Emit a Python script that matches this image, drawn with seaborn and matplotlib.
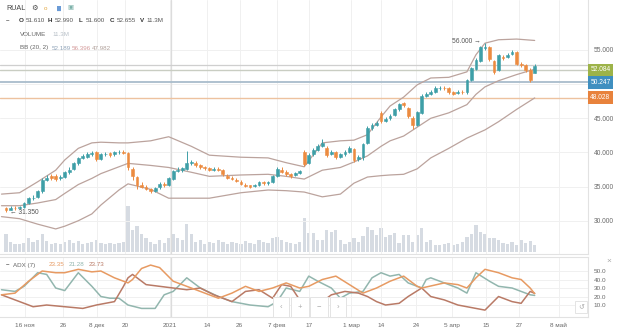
import matplotlib
matplotlib.use("Agg")
import matplotlib.pyplot as plt
import matplotlib.transforms as mtransforms
import numpy as np
import pandas as pd
import seaborn as sns

# ---- daily candles (RUAL), one entry per trading session ----
opens = [31.8, 31.6, 31.9, 31.8, 32.0, 32.6, 33.3, 33.5, 34.3, 36.0,
         36.6, 36.5, 36.2, 36.4, 37.1, 37.6, 38.4, 39.2, 39.4, 39.8,
         40.0, 39.1, 39.7, 39.9, 39.7, 40.0, 40.1, 39.9, 37.6, 36.4,
         35.3, 35.0, 34.6, 34.4, 34.9, 35.4, 35.3, 36.1, 37.3, 37.4,
         37.6, 38.5, 38.5, 38.1, 37.8, 37.7, 37.5, 37.6, 37.5, 36.6,
         36.3, 36.0, 35.7, 35.3, 35.2, 35.1, 35.3, 35.6, 35.5, 35.6,
         36.5, 37.5, 37.2, 36.8, 36.7, 37.0, 40.0, 38.5, 39.7, 40.4,
         41.0, 40.6, 39.8, 40.0, 39.4, 39.7, 40.1, 40.5, 39.0, 39.3,
         41.4, 43.6, 44.0, 45.8, 44.6, 45.0, 45.5, 46.3, 47.2, 46.5,
         45.1, 44.0, 45.8, 48.3, 48.6, 48.9, 49.4, 49.5, 49.5, 48.8,
         48.7, 48.9, 48.8, 50.6, 52.2, 53.4, 55.3, 55.4, 53.4, 52.1,
         54.0, 54.0, 54.4, 54.7, 53.0, 52.8, 52.1, 51.61]
highs = [32.0, 32.1, 32.1, 32.2, 32.8, 33.5, 33.7, 34.5, 36.2, 36.7,
         36.9, 36.8, 36.7, 37.3, 37.8, 38.6, 39.4, 39.8, 40.1, 40.2,
         40.2, 39.9, 40.0, 40.1, 40.2, 40.4, 40.3, 40.0, 37.9, 36.6,
         35.6, 35.2, 34.8, 35.0, 35.6, 35.6, 36.4, 37.5, 37.8, 37.9,
         40.2, 38.9, 38.7, 38.3, 38.0, 37.9, 37.8, 37.8, 37.6, 36.8,
         36.5, 36.2, 35.9, 35.5, 35.3, 35.4, 35.8, 35.8, 35.8, 36.7,
         37.8, 37.8, 37.4, 37.0, 37.2, 37.5, 40.3, 39.9, 40.7, 41.3,
         41.9, 40.9, 40.4, 40.2, 39.9, 40.3, 40.9, 40.7, 39.6, 41.4,
         43.8, 44.3, 44.6, 46.0, 45.2, 45.6, 46.5, 47.3, 47.4, 46.7,
         45.3, 46.1, 48.5, 48.9, 49.2, 49.7, 49.8, 49.7, 49.6, 49.0,
         49.1, 49.1, 50.8, 52.5, 53.8, 55.6, 56.0, 55.6, 53.6, 54.4,
         54.3, 54.5, 55.0, 54.9, 53.2, 53.0, 52.3, 52.99]
lows = [31.35, 31.5, 31.6, 31.7, 31.9, 32.5, 33.1, 33.3, 34.1, 35.8,
        35.9, 35.8, 35.9, 36.2, 36.9, 37.4, 38.2, 39.0, 39.2, 39.5,
        38.7, 38.9, 39.5, 39.4, 39.5, 39.8, 39.7, 37.5, 36.0, 34.6,
        34.8, 34.5, 34.1, 34.2, 34.7, 35.0, 35.1, 35.9, 37.1, 37.2,
        37.4, 38.2, 37.9, 37.6, 37.5, 37.3, 37.3, 37.3, 36.6, 36.1,
        35.9, 35.6, 35.2, 34.9, 34.8, 34.9, 35.1, 35.3, 35.3, 35.5,
        36.4, 37.0, 36.6, 36.3, 36.5, 36.8, 38.0, 38.3, 39.5, 40.2,
        40.8, 39.3, 39.6, 39.0, 39.2, 39.5, 39.9, 38.6, 38.8, 38.9,
        41.2, 43.3, 43.8, 44.3, 44.4, 44.8, 45.3, 46.1, 46.6, 45.0,
        43.4, 43.8, 45.6, 48.1, 48.4, 48.7, 49.2, 49.2, 48.6, 48.4,
        48.5, 48.6, 48.6, 50.4, 52.0, 53.2, 55.0, 53.4, 51.5, 51.9,
        53.6, 53.8, 54.2, 52.8, 52.5, 51.8, 50.3, 51.6]
closes = [31.6, 31.9, 31.8, 32.0, 32.6, 33.3, 33.4, 34.3, 36.0, 36.3,
          36.2, 36.1, 36.4, 37.1, 37.5, 38.4, 39.2, 39.5, 39.8, 39.9,
          39.0, 39.7, 39.8, 39.6, 40.0, 40.1, 39.9, 37.8, 36.6, 35.3,
          35.0, 34.7, 34.3, 34.8, 35.4, 35.2, 36.2, 37.3, 37.5, 37.7,
          38.5, 38.6, 38.1, 37.8, 37.7, 37.5, 37.6, 37.5, 36.8, 36.3,
          36.1, 35.8, 35.4, 35.1, 35.0, 35.2, 35.6, 35.5, 35.6, 36.5,
          37.6, 37.2, 36.8, 36.6, 37.0, 37.3, 38.3, 39.6, 40.4, 41.0,
          41.4, 39.6, 40.1, 39.3, 39.7, 40.1, 40.6, 38.9, 39.3, 41.2,
          43.6, 44.0, 44.3, 44.6, 44.9, 45.3, 46.3, 47.1, 46.9, 45.3,
          44.0, 45.9, 48.3, 48.6, 48.9, 49.4, 49.5, 49.4, 48.8, 48.6,
          48.9, 48.8, 50.6, 52.3, 53.6, 55.4, 55.5, 53.7, 51.8, 54.2,
          53.8, 54.3, 54.7, 53.0, 52.8, 52.1, 50.6, 52.655]
volumes_m = [29, 16, 13, 13, 14, 22, 16, 19, 29, 18,
             13, 14, 13, 16, 19, 14, 18, 13, 14, 16,
             19, 14, 13, 14, 13, 14, 16, 74, 35, 42,
             29, 22, 16, 13, 19, 14, 22, 29, 22, 19,
             45, 29, 16, 19, 13, 16, 14, 19, 16, 13,
             16, 14, 13, 18, 14, 13, 19, 16, 14, 22,
             24, 19, 16, 14, 13, 16, 54, 30, 30, 19,
             19, 35, 32, 35, 19, 13, 16, 22, 16, 26,
             40, 35, 27, 38, 24, 27, 30, 14, 27, 27,
             16, 27, 38, 16, 19, 11, 11, 12, 14, 11,
             13, 16, 24, 29, 43, 32, 29, 22, 22, 19,
             14, 13, 16, 11, 19, 14, 18, 11.3]

# ---- Bollinger Bands (20, 2) ----
bb_bars = [-1, 3, 7, 11, 13, 16, 19, 21, 25, 27, 32, 36, 41, 45, 52, 58, 62,
           66, 70, 74, 77, 80, 83, 85, 88, 91, 94, 98, 102, 104, 106, 109,
           113, 117]
bb_upper = [33.9, 34.1, 35.7, 37.4, 38.9, 40.6, 41.4, 41.5, 41.4, 41.4,
            41.7, 42.3, 40.9, 39.6, 39.3, 39.2, 38.5, 37.9, 41.4, 41.7,
            41.8, 42.6, 45.2, 46.8, 48.1, 49.9, 50.9, 51.0, 51.8, 54.3,
            56.0, 56.5, 56.6, 56.396]
bb_middle = [32.2, 32.2, 32.6, 33.1, 34.0, 35.3, 36.2, 36.9, 37.9, 38.4,
             38.1, 37.8, 37.1, 36.5, 36.7, 36.8, 36.5, 36.1, 37.4, 37.8,
             38.6, 39.5, 40.9, 41.7, 42.4, 43.7, 45.0, 45.8, 47.0, 48.5,
             49.6, 50.5, 51.4, 52.189]
bb_lower = [30.6, 30.3, 29.5, 28.8, 29.2, 30.0, 31.0, 32.3, 34.5, 35.4,
            34.6, 33.3, 33.3, 33.3, 34.1, 34.5, 34.4, 34.2, 33.5, 33.9,
            35.5, 36.4, 36.6, 36.7, 36.8, 37.6, 39.2, 40.6, 42.1, 42.7,
            43.3, 44.5, 46.3, 47.982]

# ---- ADX (7) with +DI / -DI ----
adx_bars = [-1, 2, 5, 8, 11, 13, 16, 19, 21, 24, 27, 28, 30, 32, 34, 37, 40,
            43, 47, 50, 53, 56, 59, 62, 65, 67, 70, 73, 76, 79, 82, 85, 88,
            91, 92, 97, 100, 102, 104, 106, 109, 112, 114, 116, 117]
adx_vals = [22, 24, 38, 50, 48, 48, 52, 49, 50, 42, 36, 40, 53, 57, 54, 38,
            32, 26, 18, 24, 32, 26, 30, 36, 30, 32, 40, 44, 34, 24, 30, 38,
            44, 32, 30, 36, 34, 30, 42, 52, 48, 42, 40, 30, 23.35]
pdi_bars = [-1, 2, 4, 7, 9, 11, 13, 16, 19, 21, 23, 25, 27, 30, 33, 35, 37,
            40, 43, 47, 50, 54, 58, 60, 62, 65, 67, 69, 72, 74, 76, 79, 81,
            83, 85, 87, 89, 92, 93, 94, 97, 100, 102, 104, 107, 109, 112,
            114, 116, 117]
pdi_vals = [28, 26, 32, 48, 46, 30, 27, 48, 32, 20, 18, 18, 10, 6, 6, 22,
            26, 42, 30, 20, 14, 10, 8, 14, 30, 26, 44, 38, 30, 18, 24, 26,
            42, 48, 44, 46, 36, 30, 40, 42, 36, 30, 24, 48, 38, 32, 30, 26,
            22, 21.28]
mdi_bars = [-1, 2, 6, 9, 13, 17, 20, 24, 26, 27, 28, 31, 34, 37, 40, 43, 46,
            50, 53, 56, 59, 61, 63, 65, 67, 69, 72, 75, 78, 80, 82, 84, 87,
            89, 92, 94, 97, 100, 104, 106, 109, 112, 114, 116, 117]
mdi_vals = [22, 16, 8, 10, 8, 6, 10, 14, 32, 42, 46, 34, 32, 30, 28, 30, 22,
            14, 26, 28, 18, 34, 32, 16, 12, 10, 22, 26, 24, 20, 14, 10, 12,
            20, 30, 20, 16, 10, 6, 4, 20, 14, 12, 26, 23.73]

# ---- axis labelling ----
date_tick_pos = [4.2, 12.6, 20.1, 26.3, 36.2, 44.4, 51.7, 60.0, 67.1, 76.4,
                 83.0, 90.7, 98.7, 106.2, 113.5, 122.3]
date_tick_labels = ["16 ноя", "26", "8 дек", "20", "2021", "14", "26",
                    "7 фев", "17", "1 мар", "14", "24", "5 апр", "15", "27",
                    "8 май"]
year_start = 36.5
price_grid = [30, 35, 40, 45, 50, 55]
price_labels = [30, 35, 40, 45, 55]
adx_ticks = [10, 20, 30, 40, 50]
last_price = 52.75
level_values = [52.084, 50.247, 48.028]
level_colors = ["#9db349", "#3f8fc0", "#e8823c"]
level_line_colors = ["#c9cdc2", "#a9bccb", "#edc29f"]

UP, DOWN = "#3e9fa7", "#ec8b40"
BB_COLOR = "#bba39d"
VOL_COLOR = "#d6dbe2"
ADX_COLOR, PDI_COLOR, MDI_COLOR = "#e79a62", "#92b6ae", "#b97a66"
TXT = "#6a6a6a"
GRID = "#f0f0f0"

sns.set_theme(style="white")
plt.rcParams["font.family"] = ["Liberation Sans", "DejaVu Sans"]

W, H = 620, 336
fig = plt.figure(figsize=(W / 100, H / 100), dpi=100)
fig.patch.set_facecolor("white")


def rect(x0, y0, x1, y1):
    return [x0 / W, 1 - y1 / H, (x1 - x0) / W, (y1 - y0) / H]


ax_vol = fig.add_axes(rect(0, 0, 588, 254))
ax = fig.add_axes(rect(0, 0, 588, 254), sharex=ax_vol)
ax_adx = fig.add_axes(rect(0, 257, 588, 317), sharex=ax_vol)
ax.patch.set_visible(False)

n = len(closes)
bars = np.arange(n)
df = pd.DataFrame({"bar": bars, "open": opens, "high": highs, "low": lows,
                   "close": closes, "volume": volumes_m})
df["up"] = df["close"] >= df["open"]
colors = np.where(df["up"], UP, DOWN)

xlim = (-1.33, 128.8)

# volume histogram
ax_vol.bar(df["bar"], df["volume"], width=0.72, color=VOL_COLOR, linewidth=0)
ax_vol.set_ylim(-3.2, 403)
ax_vol.set_xlim(*xlim)
ax_vol.axis("off")

# grid
for p in date_tick_pos:
    ax.axvline(p, color=GRID, lw=0.7, zorder=0)
    ax_adx.axvline(p, color=GRID, lw=0.7, zorder=0)
for p in price_grid:
    ax.axhline(p, color=GRID, lw=0.7, zorder=0)
for p in adx_ticks:
    ax_adx.axhline(p, color=GRID, lw=0.7, zorder=0)

# year separator
ax.axvline(year_start, color="#dcdcdc", lw=0.9, zorder=1)
ax_adx.axvline(year_start, color="#dcdcdc", lw=0.9, zorder=1)

# price levels
ax.axhline(last_price, color="#cfcfcf", lw=0.9, zorder=1)
for v, lc in zip(level_values, level_line_colors):
    ax.axhline(v, color=lc, lw=1.3 if v == level_values[1] else 1.0, zorder=1)

# Bollinger Bands
bb = pd.DataFrame({"bar": bb_bars, "upper": bb_upper, "middle": bb_middle,
                   "lower": bb_lower})
for col in ["upper", "middle", "lower"]:
    sns.lineplot(data=bb, x="bar", y=col, ax=ax, color=BB_COLOR, lw=0.9,
                 zorder=2, legend=False)

# candles
ax.vlines(df["bar"], df["low"], df["high"], colors=colors, lw=0.7, zorder=3)
body_lo = np.minimum(df["open"], df["close"])
body_h = np.abs(df["close"] - df["open"])
ax.bar(df["bar"], body_h, bottom=body_lo, width=0.62, color=colors,
       edgecolor=colors, linewidth=0.4, zorder=4)

ax.set_xlim(*xlim)
ax.set_ylim(25.13, 62.32)
ax.set_xlabel("")
ax.set_ylabel("")
ax.yaxis.tick_right()
ax.set_yticks(price_labels)
ax.set_yticklabels([f"{v:.3f}" for v in price_labels])
ax.tick_params(axis="y", length=0, pad=4, labelsize=4.8, labelcolor=TXT)
ax.tick_params(axis="x", bottom=False, labelbottom=False)
for s in ["top", "left"]:
    ax.spines[s].set_visible(False)
ax.spines["bottom"].set_color("#e2e2e2")
ax.spines["right"].set_color("#e2e2e2")
ax.spines["bottom"].set_linewidth(0.8)
ax.spines["right"].set_linewidth(0.8)

# level tags on the price scale
tag_tf = mtransforms.blended_transform_factory(ax.transAxes, ax.transData)
for v, c in zip(level_values, level_colors):
    ax.text(1.004, v, f"{v:.3f}", transform=tag_tf, ha="left", va="center",
            fontsize=4.8, color="white",
            bbox=dict(boxstyle="square,pad=0.4", fc=c, ec="none"), zorder=6)

# extremes
i_hi = int(np.argmax(highs))
ax.annotate(f"{highs[i_hi]:.3f} \u2192", xy=(i_hi, highs[i_hi]),
            xytext=(-3, 1), textcoords="offset points", ha="right",
            va="center", fontsize=4.8, color="#555555")
i_lo = int(np.argmin(lows))
ax.annotate(f"\u2190 {lows[i_lo]:.3f}", xy=(i_lo, lows[i_lo]),
            xytext=(3, -1), textcoords="offset points", ha="left",
            va="center", fontsize=4.8, color="#555555")

# ADX panel
adx_df = pd.DataFrame({"bar": adx_bars, "v": adx_vals})
pdi_df = pd.DataFrame({"bar": pdi_bars, "v": pdi_vals})
mdi_df = pd.DataFrame({"bar": mdi_bars, "v": mdi_vals})
sns.lineplot(data=pdi_df, x="bar", y="v", ax=ax_adx, color=PDI_COLOR, lw=1.1)
sns.lineplot(data=mdi_df, x="bar", y="v", ax=ax_adx, color=MDI_COLOR, lw=1.1)
sns.lineplot(data=adx_df, x="bar", y="v", ax=ax_adx, color=ADX_COLOR, lw=1.1)
ax_adx.set_xlim(*xlim)
ax_adx.set_ylim(-4.1, 66.5)
ax_adx.set_xlabel("")
ax_adx.set_ylabel("")
ax_adx.yaxis.tick_right()
ax_adx.set_yticks(adx_ticks)
ax_adx.set_yticklabels([f"{v:.1f}" for v in adx_ticks])
ax_adx.tick_params(axis="y", length=0, pad=4, labelsize=4.6, labelcolor=TXT)
ax_adx.set_xticks(date_tick_pos)
ax_adx.set_xticklabels(date_tick_labels)
ax_adx.tick_params(axis="x", length=0, pad=7.3, labelsize=4.6,
                   labelcolor=TXT)
for lbl in ax_adx.get_xticklabels():
    lbl.set_verticalalignment("baseline")
ax_adx.spines["left"].set_visible(False)
for s in ["top", "bottom", "right"]:
    ax_adx.spines[s].set_color("#e2e2e2")
    ax_adx.spines[s].set_linewidth(0.8)


def ftext(x, y, s, **kw):
    kw.setdefault("fontsize", 4.5)
    kw.setdefault("color", "#555555")
    fig.text(x / W, 1 - y / H, s, va="center", ha="left", **kw)


# header
ftext(6, 8, "RUAL", color="#444444", fontsize=5.2)
ftext(31, 8, "\u2699", color="#444444", fontsize=5.2, family="DejaVu Sans")
ftext(44, 8, "o", color="#e3a63e")
ftext(55, 8, "\u2590\u258c", color="#6b9bd6", fontsize=3.8,
      family="DejaVu Sans")
ftext(67, 8, "\u25a3", color="#7ab0a8", fontsize=4.6, family="DejaVu Sans")
ftext(6, 21, "\u2013", color="#333333", fontweight="bold")
row = [(19, "O", "51.610"), (48, "H", "52.990"), (79, "L", "51.600"),
       (110, "C", "52.655"), (140, "V", "11.3M")]
for x, k, v in row:
    ftext(x, 21, k, color="#333333", fontweight="bold")
    ftext(x + 6.5, 21, v, color="#555555")
ftext(20, 35, "VOLUME", color="#666666")
ftext(52, 35, "11.3M", color="#b8c0c8")
ftext(20, 48, "BB (20, 2)", color="#666666")
ftext(52, 48, "52.189", color="#8fa3b8")
ftext(72, 48, "56.396", color="#d49a9a")
ftext(92, 48, "47.982", color="#b0a09a")

ftext(6, 265, "\u2013", color="#333333", fontweight="bold")
ftext(13, 265, "ADX (7)", color="#666666")
ftext(49, 265, "23.35", color=ADX_COLOR)
ftext(69, 265, "21.28", color=PDI_COLOR)
ftext(89, 265, "23.73", color=MDI_COLOR)

# chart controls
for x0, g in [(273, "\u2039"), (292, "+"), (311, "\u2212"), (330, "\u203a")]:
    fig.text((x0 + 8) / W, 1 - 307 / H, g, ha="center", va="center",
             fontsize=5.5, color="#aaaaaa",
             bbox=dict(boxstyle="square,pad=0.9", fc="white", ec="#e4e4e4",
                       lw=0.7))
fig.text(581 / W, 1 - 307 / H, "\u21ba", ha="center", va="center",
         fontsize=5, color="#aaaaaa", family="DejaVu Sans",
         bbox=dict(boxstyle="square,pad=0.5", fc="white", ec="#e4e4e4",
                   lw=0.7))
fig.text(609 / W, 1 - 261 / H, "\u00d7", ha="center", va="center",
         fontsize=6, color="#aaaaaa")

fig.savefig("out.png", dpi=100, facecolor="white")
